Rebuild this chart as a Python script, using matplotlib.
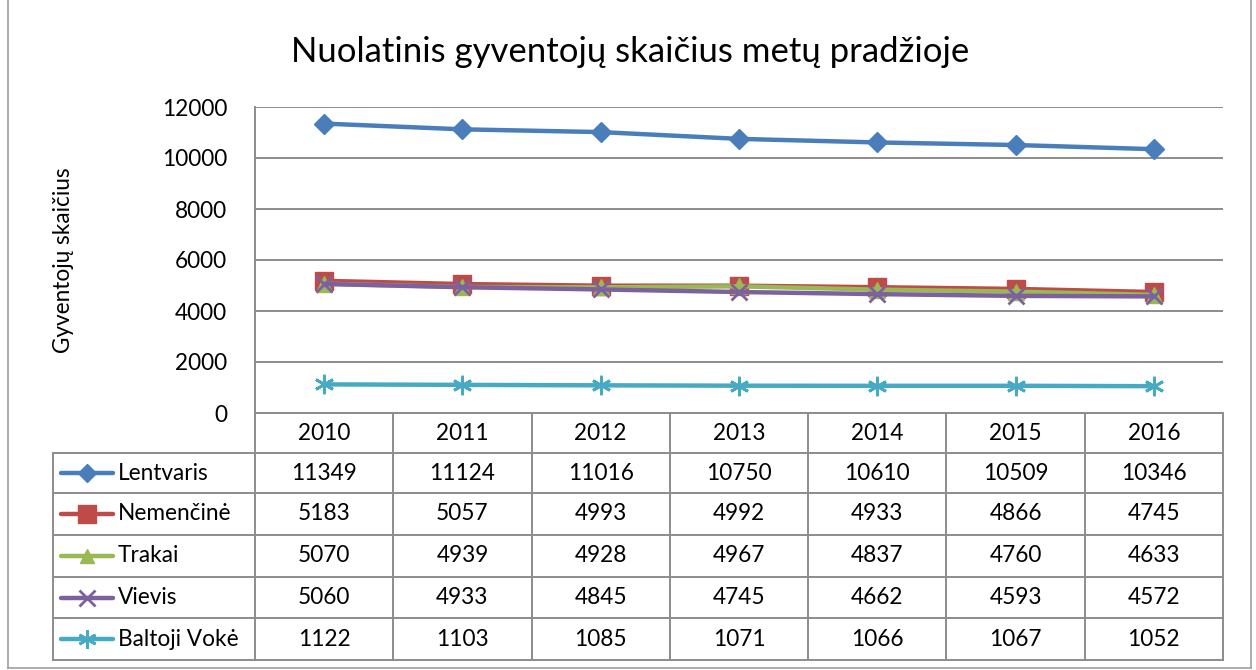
import matplotlib
matplotlib.use('Agg')
import matplotlib.pyplot as plt

years = ['2010', '2011', '2012', '2013', '2014', '2015', '2016']
names = ['Lentvaris', 'Nemenčinė', 'Trakai', 'Vievis', 'Baltoji Vokė']
lentvaris = [11349, 11124, 11016, 10750, 10610, 10509, 10346]
nemencine = [5183, 5057, 4993, 4992, 4933, 4866, 4745]
trakai = [5070, 4939, 4928, 4967, 4837, 4760, 4633]
vievis = [5060, 4933, 4845, 4745, 4662, 4593, 4572]
baltoji_voke = [1122, 1103, 1085, 1071, 1066, 1067, 1052]
y_ticks = [0, 2000, 4000, 6000, 8000, 10000, 12000]

series = [lentvaris, nemencine, trakai, vievis, baltoji_voke]
colors = ['#4A7EBB', '#BE4B48', '#98B954', '#7D60A0', '#46AAC5']
markers = ['D', 's', '^', 'x', (6, 2, 0)]
msizes = [10, 13, 11, 12, 14]

plt.rcParams['font.family'] = ['Lato', 'DejaVu Sans']
W, H = 1256, 670
fig = plt.figure(figsize=(W / 100, H / 100), dpi=100)
grid_c = '#8C8C8C'
fs = 16.3


def fx(px):
    return px / W


def fy(py):
    return 1 - py / H


# outer frame
fig.add_artist(plt.Line2D([fx(8), fx(8)], [fy(0), fy(668)], color='#A0A0A0', lw=1.2))
fig.add_artist(plt.Line2D([fx(1251), fx(1251)], [fy(0), fy(668)], color='#A0A0A0', lw=1.2))
fig.add_artist(plt.Line2D([fx(8), fx(1251)], [fy(668), fy(668)], color='#A0A0A0', lw=1.2))

left, right, top, bottom = 255, 1223, 107, 413
ax = fig.add_axes([fx(left), fy(bottom), fx(right - left), fy(top) - fy(bottom)])
n = len(years)
for vals, c, m, ms in zip(series, colors, markers, msizes):
    mew = 2 if m == 'x' or isinstance(m, tuple) else 1
    ax.plot(range(n), vals, color=c, lw=3.2, marker=m, markersize=ms,
            markeredgewidth=mew, markeredgecolor=c, markerfacecolor=c,
            solid_capstyle='round', zorder=3)
ax.set_xlim(-0.5, n - 0.5)
ax.set_ylim(0, 12000)
ax.set_yticks(y_ticks)
ax.set_yticklabels([str(t) for t in y_ticks], fontsize=fs)
ax.tick_params(axis='y', length=0, pad=20)
ax.set_xticks([])
ax.grid(axis='y', color=grid_c, lw=1.4)
for s in ['top', 'right', 'bottom']:
    ax.spines[s].set_visible(False)
ax.spines['left'].set_color(grid_c)
ax.spines['left'].set_linewidth(1.4)

fig.text(fx(63), fy(260), 'Gyventojų skaičius', rotation=90,
         ha='center', va='center', fontsize=fs)
fig.text(fx(630), fy(52), 'Nuolatinis gyventojų skaičius metų pradžioje',
         ha='center', va='center', fontsize=25)

# data table under the axes
tab_left = 53
row_edges = [413, 453, 493, 535, 577, 618, 660]
col_w = (right - left) / n
tc = '#8C8C8C'
for i, r in enumerate(row_edges):
    x0 = left if i == 0 else tab_left
    fig.add_artist(plt.Line2D([fx(x0), fx(right)], [fy(r), fy(r)], color=tc, lw=1.4))
for j in range(n + 1):
    x = left + j * col_w
    fig.add_artist(plt.Line2D([fx(x), fx(x)], [fy(row_edges[0]), fy(row_edges[-1])], color=tc, lw=1.4))
fig.add_artist(plt.Line2D([fx(tab_left), fx(tab_left)], [fy(row_edges[1]), fy(row_edges[-1])], color=tc, lw=1.4))

for j, yr in enumerate(years):
    fig.text(fx(left + (j + 0.5) * col_w), fy((row_edges[0] + row_edges[1]) / 2), yr,
             ha='center', va='center', fontsize=fs)

for i, (name, vals, c, m, ms) in enumerate(zip(names, series, colors, markers, msizes)):
    yc = fy((row_edges[i + 1] + row_edges[i + 2]) / 2)
    mew = 2 if m == 'x' or isinstance(m, tuple) else 1
    fig.add_artist(plt.Line2D([fx(61), fx(113)], [yc, yc], color=c, lw=3.2,
                              solid_capstyle='round'))
    fig.add_artist(plt.Line2D([fx(87)], [yc], color=c, marker=m, markersize=ms * 0.95,
                              markeredgewidth=mew, markerfacecolor=c, markeredgecolor=c))
    fig.text(fx(118), yc, name, ha='left', va='center', fontsize=fs)
    for j, v in enumerate(vals):
        fig.text(fx(left + (j + 0.5) * col_w), yc, str(v), ha='center', va='center', fontsize=fs)

fig.savefig('out.png', dpi=100)
